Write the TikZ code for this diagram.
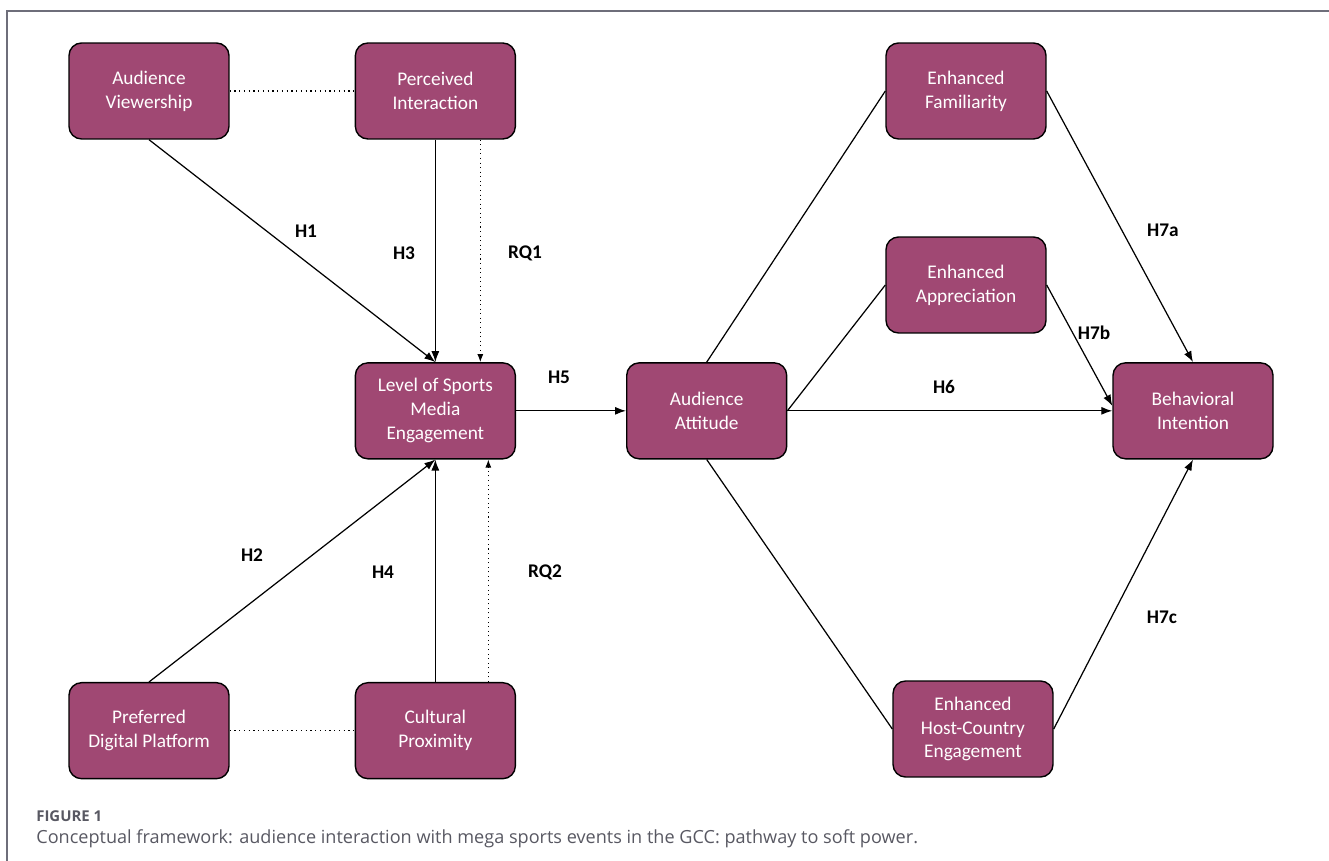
\documentclass[tikz,border=0pt]{standalone}
\usepackage{fontspec}
\setmainfont{Carlito}
\newfontfamily\capfont{Open Sans}
\usetikzlibrary{arrows.meta, positioning}
\definecolor{boxplum}{RGB}{160,72,115}
\definecolor{framegray}{RGB}{110,110,122}
\definecolor{capgray}{RGB}{88,88,98}

\begin{document}
\begin{tikzpicture}[
    x=0.02cm, y=-0.02cm,
    node distance=2.5cm,
    factor/.style={draw, fill=boxplum, text=white, rounded corners=0.25cm, line width=0.8pt,
      minimum width=3.2cm, minimum height=1.92cm, align=center,
      font=\fontsize{11}{13.6}\selectfont},
    hyp/.style={font=\bfseries\fontsize{11}{12}\selectfont},
    link/.style={-{Latex[length=2.2mm, width=1.6mm]}, line width=0.7pt},
    plain/.style={line width=0.7pt},
    assoc/.style={dotted, line width=0.7pt},
    probe/.style={dotted, line width=0.6pt, -{Latex[length=1.6mm, width=1.2mm]}}
  ]
    \useasboundingbox (0,0) rectangle (1329,861);
    \draw[framegray, line width=1pt] (7,861) -- (7,11) -- (1329,11);

    % left block
    \node[factor] (aud) at (149,91) {Audience\\Viewership};
    \node[factor, right=of aud] (perc) {Perceived\\Interaction};
    \node[factor, below=4.45cm of perc] (level) {Level of Sports\\Media\\Engagement};
    \node[factor, below=4.45cm of level] (cult) {Cultural\\Proximity};
    \node[factor, left=of cult] (pref) {Preferred\\Digital Platform};

    % right block
    \node[factor, right=2.2cm of level] (att) {Audience\\Attitude};
    \node[factor, right=6.5cm of att] (behav) {Behavioral\\Intention};
    \node[factor] (fam) at (966,91) {Enhanced\\Familiarity};
    \node[factor] (appr) at (966,285) {Enhanced\\Appreciation};
    \node[factor] (host) at (973,729) {Enhanced\\Host-Country\\Engagement};

    \draw[assoc] (aud) -- (perc);
    \draw[assoc] (pref) -- (cult);
    \draw[link] (aud.south) -- (level.north);
    \draw[link] (perc.south) -- (level.north);
    \draw[probe] ([xshift=0.9cm]perc.south) -- ([xshift=0.9cm]level.north);
    \draw[link] (pref.north) -- (level.south);
    \draw[link] (cult.north) -- (level.south);
    \draw[probe] ([xshift=1.06cm]cult.north) -- ([xshift=1.06cm]level.south);
    \draw[link] (level) -- (att);

    \draw[plain] (att.north) -- (fam.west);
    \draw[plain] (att.east) -- (appr.west);
    \draw[plain] (att.south) -- (host.west);
    \draw[link] (att) -- (behav);
    \draw[link] (fam.east) -- (behav.north);
    \draw[link] (appr.east) -- ([yshift=0.1cm]behav.west);
    \draw[link] (host.east) -- (behav.south);

    % path labels
    \node[hyp] (h1) at (306,231) {H1};
    \node[hyp] (h3) at (404,253) {H3};
    \node[hyp] (rq1) at (525,253) {RQ1};
    \node[hyp] (h2) at (252,555) {H2};
    \node[hyp] (h4) at (383,572) {H4};
    \node[hyp] (rq2) at (545,572) {RQ2};
    \node[hyp] (h5) at (559,377) {H5};
    \node[hyp] (h6) at (944,387) {H6};
    \node[hyp] (h7a) at (1163,230) {H7a};
    \node[hyp] (h7b) at (1094,333) {H7b};
    \node[hyp] (h7c) at (1162,617) {H7c};

    % caption
    \node[anchor=west, inner sep=0, text=capgray, font=\capfont\bfseries\fontsize{8.5}{10}\selectfont] (fig) at (36,816) {FIGURE 1};
    \node[anchor=west, inner sep=0, text=capgray, font=\capfont\fontsize{10.3}{12}\selectfont] (cap) at (36,839) {Conceptual framework: audience interaction with mega sports events in the GCC: pathway to soft power.};
\end{tikzpicture}
\end{document}
